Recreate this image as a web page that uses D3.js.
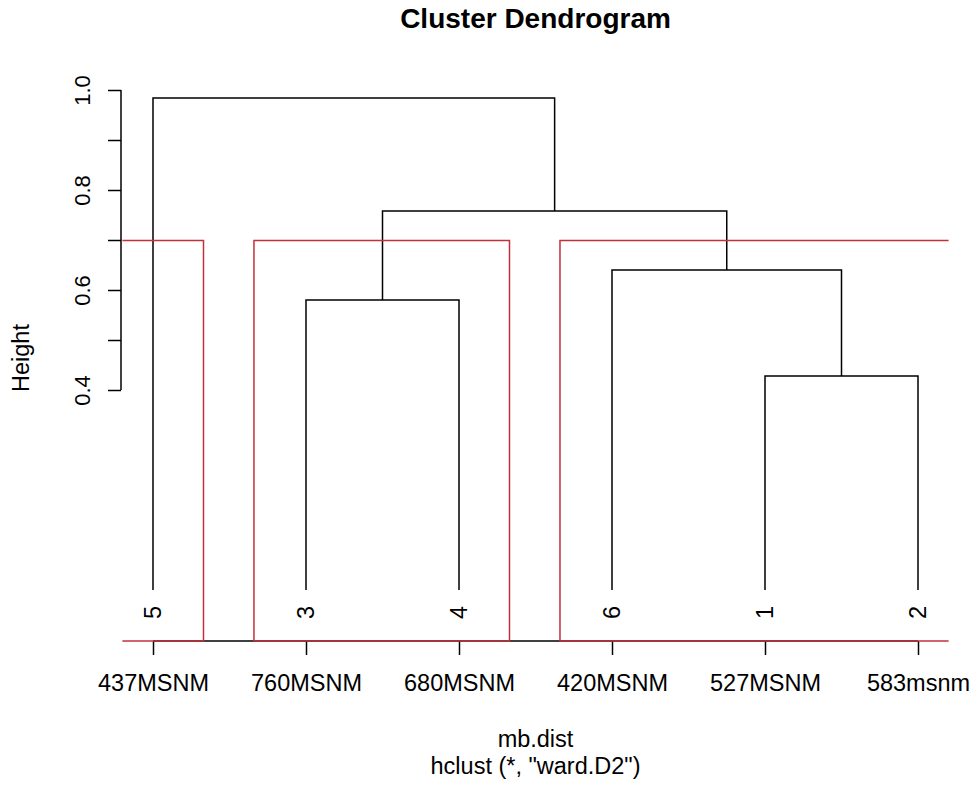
<!DOCTYPE html>
<html>
<head>
<meta charset="utf-8">
<script src="https://cdn.jsdelivr.net/npm/d3@7"></script>
<style>
  html, body { margin: 0; padding: 0; background: #fff; }
  text { font-family: "Liberation Sans", Arial, sans-serif; fill: #000; }
</style>
</head>
<body>
<svg id="chart" width="974" height="788"></svg>
<script>
// Leaves in dendrogram order (left to right)
const leafIds = ["5", "3", "4", "6", "1", "2"];
// Station names shown under each leaf
const stationLabels = ["437MSNM", "760MSNM", "680MSNM", "420MSNM", "527MSNM", "583msnm"];
// Merge steps: pairs of children (leaf id or "m<k>" for an earlier merge)
const mergeLeft  = ["1", "3", "6",  "m2", "5"];
const mergeRight = ["2", "4", "m1", "m3", "m4"];
const mergeHeights = [0.428, 0.58, 0.64, 0.758, 0.984];
// Y axis ticks
const yTicks = [0.4, 0.5, 0.6, 0.7, 0.8, 0.9, 1.0];
const yTickLabels = ["0.4", "", "0.6", "", "0.8", "", "1.0"];
// Number of clusters outlined
const kClusters = 3;

const svg = d3.select("#chart");

// Plot region in user coordinates: x over leaf positions, y over heights
const x = d3.scaleLinear().domain([0.8, 6.2]).range([122.4, 948.6]);
const y = d3.scaleLinear().domain([-0.102, 1.03]).range([641, 75]);

const ink = "#000";
const red = "#C2303C";
const lw = 1.5;
const baseFont = "23.5px";
const midX = (x.range()[0] + x.range()[1]) / 2;

// Title and annotations
svg.append("text")
  .attr("x", midX)
  .attr("y", 28)
  .attr("text-anchor", "middle")
  .style("font-size", "28px").style("font-weight", "bold")
  .text("Cluster Dendrogram");

svg.append("text")
  .attr("transform", `translate(29,${(y.range()[0] + y.range()[1]) / 2}) rotate(-90)`)
  .attr("text-anchor", "middle")
  .style("font-size", baseFont)
  .text("Height");

svg.append("text")
  .attr("x", midX)
  .attr("y", 747)
  .attr("text-anchor", "middle")
  .style("font-size", baseFont)
  .text("mb.dist");

svg.append("text")
  .attr("x", midX)
  .attr("y", 774)
  .attr("text-anchor", "middle")
  .style("font-size", baseFont)
  .text('hclust (*, "ward.D2")');

// Y axis (ticks from 0.4 to 1.0, labels parallel to the axis)
const yAxis = d3.axisLeft(y)
  .tickValues(yTicks)
  .tickSize(13)
  .tickSizeOuter(0)
  .tickFormat((d, i) => yTickLabels[i]);
const gy = svg.append("g").attr("transform", "translate(121,0)").call(yAxis);
gy.select(".domain").attr("d", `M0,${y(yTicks[0])}V${y(yTicks[yTicks.length - 1])}`)
  .attr("stroke", ink).attr("stroke-width", lw);
gy.selectAll(".tick line").attr("stroke", ink).attr("stroke-width", lw);
gy.selectAll(".tick text")
  .attr("x", null).attr("dy", null)
  .attr("transform", "translate(-31,0) rotate(-90)")
  .attr("text-anchor", "middle")
  .style("font-size", "22px")
  .style("font-family", '"Liberation Sans", Arial, sans-serif');

// X axis: one tick per leaf with the station name
const leafPos = leafIds.map((d, i) => i + 1);
const xAxis = d3.axisBottom(x)
  .tickValues(leafPos)
  .tickSize(14)
  .tickSizeOuter(0)
  .tickFormat((d, i) => stationLabels[i]);
const gx = svg.append("g").attr("transform", `translate(0,${y.range()[0]})`).call(xAxis);
gx.select(".domain").attr("d", `M${x(1)},0H${x(6)}`)
  .attr("stroke", ink).attr("stroke-width", lw);
gx.selectAll(".tick line").attr("stroke", ink).attr("stroke-width", lw);
gx.selectAll(".tick text")
  .attr("y", 50).attr("dy", null)
  .style("font-size", baseFont)
  .style("font-family", '"Liberation Sans", Arial, sans-serif');

// Build the tree: every node gets an x (mean of children) and a height
const nodes = {};
leafIds.forEach((id, i) => { nodes[id] = { x: i + 1, h: 0, members: [i + 1] }; });
mergeHeights.forEach((h, k) => {
  const a = nodes[mergeLeft[k]], b = nodes[mergeRight[k]];
  nodes["m" + (k + 1)] = {
    x: (a.x + b.x) / 2, h, a, b,
    members: a.members.concat(b.members)
  };
});

const treeG = svg.append("g")
  .attr("fill", "none").attr("stroke", ink).attr("stroke-width", lw);
mergeHeights.forEach((h, k) => {
  const n = nodes["m" + (k + 1)];
  const path = d3.path();
  path.moveTo(x(n.a.x), y(n.a.h));
  path.lineTo(x(n.a.x), y(n.h));
  path.lineTo(x(n.b.x), y(n.h));
  path.lineTo(x(n.b.x), y(n.b.h));
  treeG.append("path").attr("d", path.toString());
});

// Leaf labels, rotated, hanging below each leaf
svg.append("g").selectAll("text")
  .data(leafIds)
  .join("text")
  .attr("transform", (d, i) => `translate(${x(i + 1)},${y(0) + 16}) rotate(-90)`)
  .attr("text-anchor", "end")
  .attr("dy", "0.36em")
  .style("font-size", baseFont)
  .text(d => d);

// Cluster rectangles for k groups, cut between the (k-1)th and kth highest merge
const sortedH = mergeHeights.slice().sort((a, b) => b - a);
const cutH = (sortedH[kClusters - 2] + sortedH[kClusters - 1]) / 2;
const rootNode = nodes["m" + mergeHeights.length];
// Walk down from the root, splitting the highest merge until k groups remain
let groups = [rootNode];
while (groups.length < kClusters) {
  groups.sort((a, b) => b.h - a.h);
  const g = groups.shift();
  groups.push(g.a, g.b);
}
groups.sort((a, b) => d3.min(a.members) - d3.min(b.members));

svg.append("clipPath").attr("id", "plotClip")
  .append("rect")
  .attr("x", x.range()[0]).attr("y", y.range()[1])
  .attr("width", x.range()[1] - x.range()[0])
  .attr("height", y.range()[0] - y.range()[1] + 1);

svg.append("g").attr("clip-path", "url(#plotClip)")
  .selectAll("rect")
  .data(groups)
  .join("rect")
  .attr("x", d => x(d3.min(d.members) - 1 + 0.66))
  .attr("width", d => x(d3.max(d.members) + 0.33) - x(d3.min(d.members) - 1 + 0.66))
  .attr("y", y(cutH))
  .attr("height", y.range()[0] - y(cutH))
  .attr("fill", "none")
  .attr("stroke", red)
  .attr("stroke-width", lw);
</script>
</body>
</html>
